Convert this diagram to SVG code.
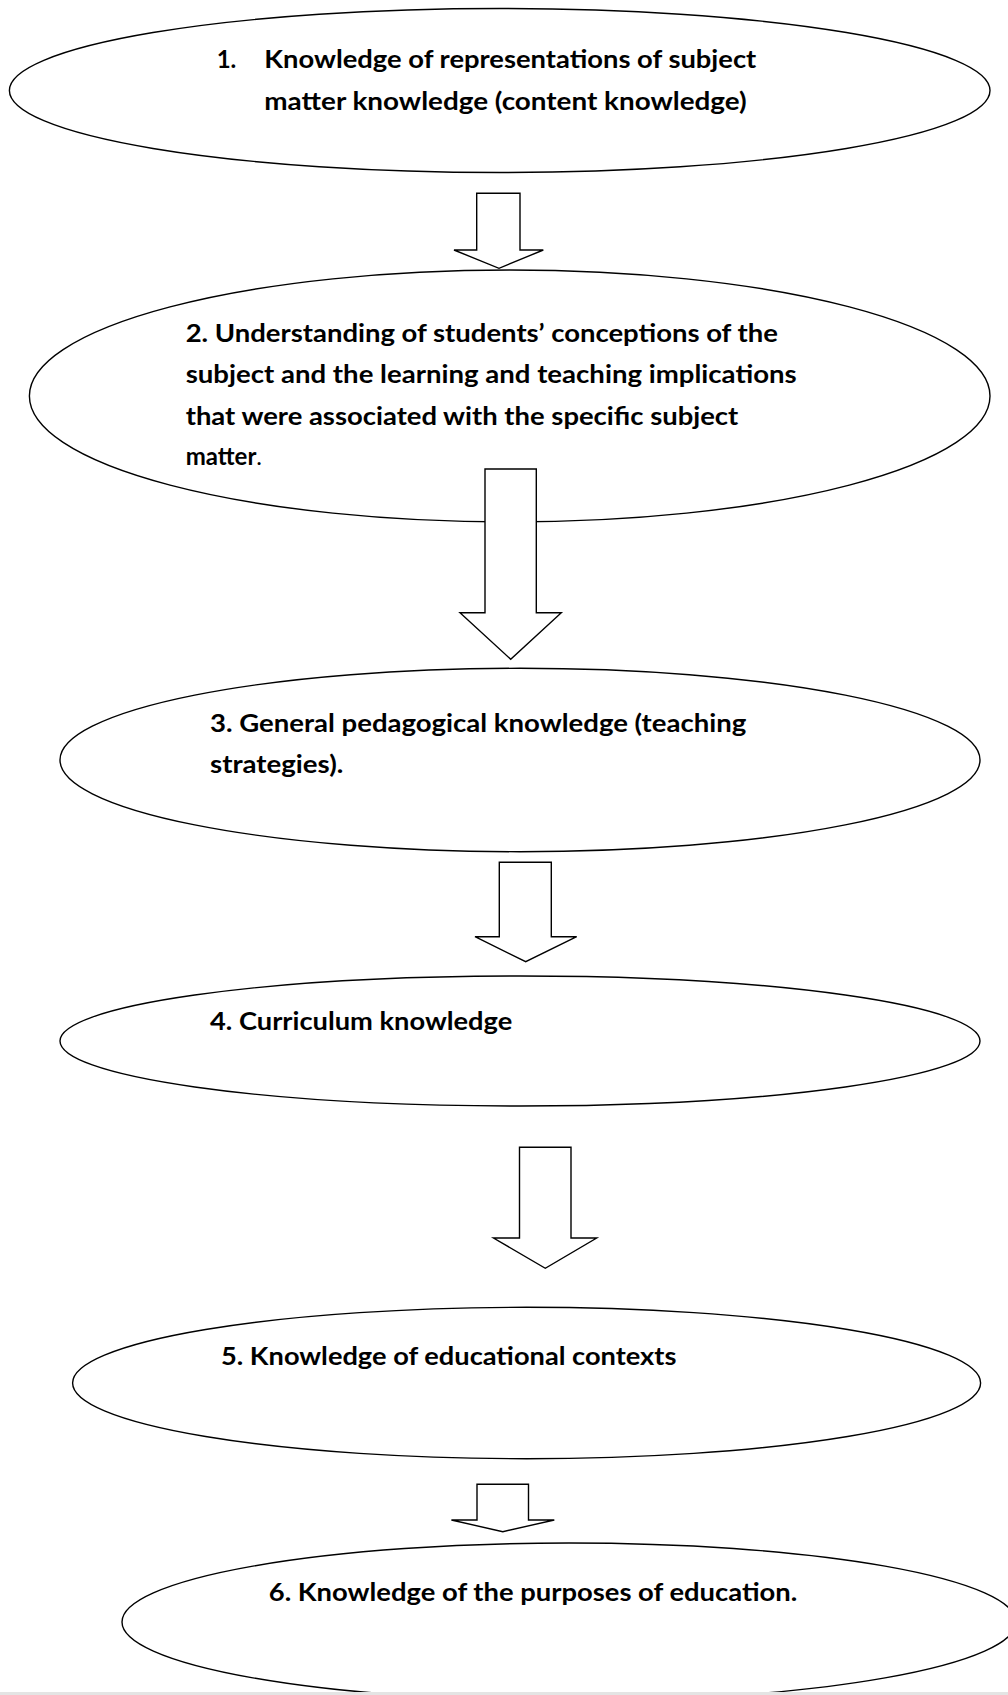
<svg xmlns="http://www.w3.org/2000/svg" width="1008" height="1695" viewBox="0 0 1008 1695">
<style>
.node ellipse{fill:#fff;stroke:#000;stroke-width:1.4}
.conn polygon{fill:#fff;stroke:#000;stroke-width:1.4;stroke-linejoin:miter}
text{font-family:Lato,"Open Sans","Liberation Sans",sans-serif;font-weight:bold;font-size:24px;fill:#000}
.n{font-weight:normal}
</style>
<rect x="0" y="0" width="1008" height="1695" fill="#fff"/>
<g id="node1" class="node">
<ellipse cx="499.7" cy="90.5" rx="490.3" ry="82"/>
<text x="216.7" y="68.3">1.</text>
<text x="264.3" y="68.3" textLength="492" lengthAdjust="spacingAndGlyphs">Knowledge of representations of subject</text>
<text x="264.3" y="110" textLength="482.4" lengthAdjust="spacingAndGlyphs">matter knowledge (content knowledge)</text>
</g>
<g id="node2" class="node">
<ellipse cx="509.7" cy="396" rx="480.3" ry="126"/>
<text x="185.7" y="341.7" textLength="592.3" lengthAdjust="spacingAndGlyphs">2. Understanding of students’ conceptions of the</text>
<text x="185.7" y="383.3" textLength="611" lengthAdjust="spacingAndGlyphs">subject and the learning and teaching implications</text>
<text x="185.7" y="425" textLength="552.6" lengthAdjust="spacingAndGlyphs">that were associated with the specific subject</text>
<text x="185.7" y="465">matter<tspan class="n">.</tspan></text>
</g>
<g id="node3" class="node">
<ellipse cx="520" cy="760" rx="460" ry="91.7"/>
<text x="210" y="731.7" textLength="536.3" lengthAdjust="spacingAndGlyphs">3. General pedagogical knowledge (teaching</text>
<text x="210" y="773.3" textLength="133.3" lengthAdjust="spacingAndGlyphs">strategies).</text>
</g>
<g id="node4" class="node">
<ellipse cx="520" cy="1041" rx="460" ry="65"/>
<text x="210" y="1030" textLength="302.3" lengthAdjust="spacingAndGlyphs">4. Curriculum knowledge</text>
</g>
<g id="node5" class="node">
<ellipse cx="526.6" cy="1383" rx="454" ry="75.7"/>
<text x="221" y="1365" textLength="455.4" lengthAdjust="spacingAndGlyphs">5. Knowledge of educational contexts</text>
</g>
<g id="node6" class="node">
<ellipse cx="569" cy="1622" rx="447" ry="79"/>
<text x="268.8" y="1600.7" textLength="528.5" lengthAdjust="spacingAndGlyphs">6. Knowledge of the purposes of education.</text>
</g>
<g id="connectors" class="conn">
<polygon points="476.7,193.3 520,193.3 520,250 543.3,250 499,268.3 454,250 476.7,250"/>
<polygon points="485,469 536.3,469 536.3,612.7 561.3,612.7 510.7,659.3 460,612.7 485,612.7"/>
<polygon points="499.3,862.3 551.3,862.3 551.3,936.7 576.7,936.7 525.7,961.7 475,936.7 499.3,936.7"/>
<polygon points="519.5,1147.3 571,1147.3 571,1238 596.7,1238 545.3,1268.3 493.5,1238 519.5,1238"/>
<polygon points="477,1484.3 528.5,1484.3 528.5,1520 554.3,1520 502.8,1531.7 451.4,1520 477,1520"/>
</g>
<rect x="0" y="1692" width="1008" height="3" fill="#e4e4e4"/>
</svg>
